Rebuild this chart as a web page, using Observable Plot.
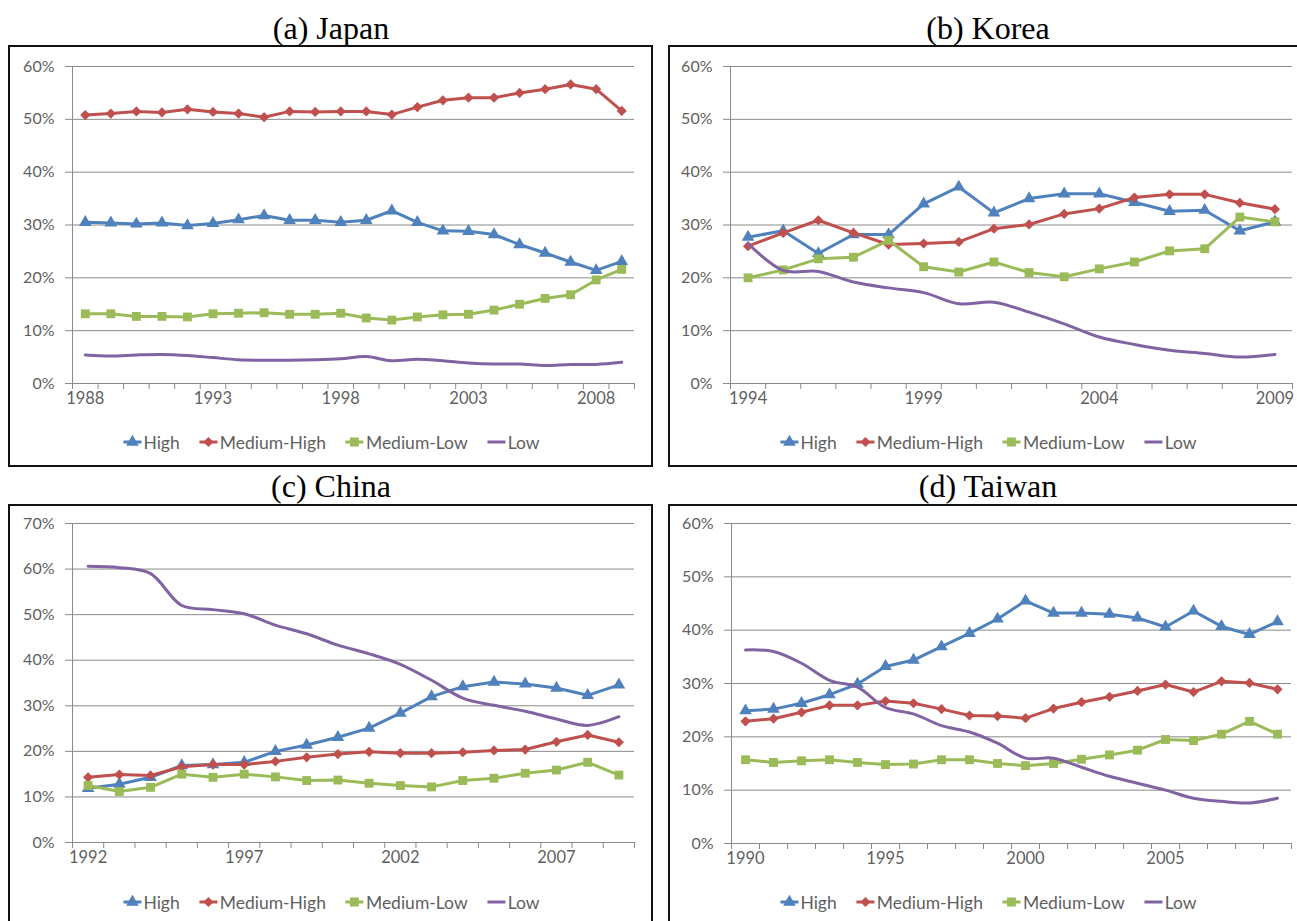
<!DOCTYPE html>
<html>
<head>
<meta charset="utf-8">
<script src="https://cdn.jsdelivr.net/npm/d3@7"></script>
<script src="https://cdn.jsdelivr.net/npm/@observablehq/plot@0.6"></script>
<style>
  body { margin: 0; background: #fff; }
  #page { position: relative; width: 1297px; height: 921px; overflow: hidden; background: #fff; }
  .title { position: absolute; font-family: "Liberation Serif", "Times New Roman", serif; font-size: 32px;
           color: #000; text-align: center; white-space: nowrap; line-height: 36px; }
  .frame { position: absolute; border: 2px solid #111; box-sizing: border-box; background: #fff; }
  .chart { position: absolute; }
  .legend { position: absolute; display: flex; justify-content: center; align-items: center; gap: 19px;
            font-family: Lato, "Open Sans", sans-serif; font-size: 17.5px; color: #5f5f5f; white-space: nowrap;
            transform: translateX(-50%); }
  .legend .item { display: inline-flex; align-items: center; }
  .legend svg { margin-right: 1px; }
</style>
</head>
<body>
<div id="page"></div>
<script>
// Share of manufacturing output by technology intensity (%), by year

// (a) Japan
const japanYears = [1988, 1989, 1990, 1991, 1992, 1993, 1994, 1995, 1996, 1997, 1998, 1999, 2000, 2001, 2002, 2003, 2004, 2005, 2006, 2007, 2008, 2009];
const japanHigh    = [30.5, 30.4, 30.2, 30.4, 29.9, 30.3, 31.0, 31.8, 30.9, 30.9, 30.5, 30.9, 32.7, 30.5, 28.9, 28.8, 28.2, 26.3, 24.7, 23.0, 21.4, 23.1];
const japanMedHigh = [50.8, 51.1, 51.5, 51.3, 51.9, 51.4, 51.1, 50.4, 51.5, 51.4, 51.5, 51.5, 50.9, 52.3, 53.6, 54.1, 54.1, 55.0, 55.7, 56.6, 55.7, 51.6];
const japanMedLow  = [13.2, 13.2, 12.7, 12.7, 12.6, 13.2, 13.3, 13.4, 13.1, 13.1, 13.3, 12.4, 12.0, 12.6, 13.0, 13.1, 13.9, 15.0, 16.1, 16.8, 19.6, 21.6];
const japanLow     = [5.4, 5.2, 5.4, 5.5, 5.3, 4.9, 4.5, 4.4, 4.4, 4.5, 4.7, 5.1, 4.3, 4.6, 4.3, 3.9, 3.7, 3.7, 3.4, 3.6, 3.6, 4.0];
const japanTickLabels = [1988, 1993, 1998, 2003, 2008];

// (b) Korea
const koreaYears = [1994, 1995, 1996, 1997, 1998, 1999, 2000, 2001, 2002, 2003, 2004, 2005, 2006, 2007, 2008, 2009];
const koreaHigh    = [27.7, 28.9, 24.6, 28.2, 28.2, 34.0, 37.2, 32.3, 35.0, 35.9, 35.9, 34.3, 32.6, 32.8, 28.9, 30.6];
const koreaMedHigh = [26.0, 28.5, 30.9, 28.5, 26.3, 26.5, 26.8, 29.3, 30.1, 32.1, 33.1, 35.2, 35.8, 35.8, 34.2, 33.0];
const koreaMedLow  = [20.0, 21.5, 23.6, 23.9, 27.1, 22.1, 21.1, 23.0, 21.0, 20.2, 21.7, 23.0, 25.1, 25.5, 31.5, 30.6];
const koreaLow     = [26.5, 21.4, 21.2, 19.2, 18.1, 17.2, 15.1, 15.4, 13.5, 11.3, 8.8, 7.4, 6.3, 5.7, 5.0, 5.5];
const koreaTickLabels = [1994, 1999, 2004, 2009];

// (c) China
const chinaYears = [1992, 1993, 1994, 1995, 1996, 1997, 1998, 1999, 2000, 2001, 2002, 2003, 2004, 2005, 2006, 2007, 2008, 2009];
const chinaHigh    = [11.9, 12.8, 14.3, 16.9, 17.1, 17.6, 20.0, 21.4, 23.1, 25.1, 28.4, 32.0, 34.2, 35.2, 34.8, 33.9, 32.3, 34.6];
const chinaMedHigh = [14.3, 14.9, 14.7, 16.6, 17.1, 17.1, 17.8, 18.7, 19.4, 19.9, 19.6, 19.6, 19.8, 20.2, 20.4, 22.1, 23.6, 22.0];
const chinaMedLow  = [12.5, 11.2, 12.1, 15.0, 14.3, 15.0, 14.4, 13.6, 13.7, 13.0, 12.5, 12.2, 13.6, 14.1, 15.2, 15.9, 17.6, 14.8];
const chinaLow     = [60.6, 60.3, 59.0, 52.0, 51.1, 50.2, 47.7, 45.8, 43.3, 41.4, 39.1, 35.6, 31.7, 30.1, 28.8, 27.1, 25.7, 27.6];
const chinaTickLabels = [1992, 1997, 2002, 2007];

// (d) Taiwan
const taiwanYears = [1990, 1991, 1992, 1993, 1994, 1995, 1996, 1997, 1998, 1999, 2000, 2001, 2002, 2003, 2004, 2005, 2006, 2007, 2008, 2009];
const taiwanHigh    = [24.9, 25.2, 26.3, 27.9, 29.9, 33.2, 34.4, 36.9, 39.4, 42.1, 45.5, 43.2, 43.2, 43.0, 42.3, 40.6, 43.6, 40.7, 39.2, 41.6];
const taiwanMedHigh = [22.9, 23.4, 24.6, 25.9, 25.9, 26.7, 26.3, 25.2, 24.0, 23.9, 23.5, 25.3, 26.5, 27.5, 28.6, 29.8, 28.4, 30.4, 30.1, 28.9];
const taiwanMedLow  = [15.7, 15.2, 15.5, 15.7, 15.2, 14.8, 14.9, 15.7, 15.7, 15.0, 14.6, 15.0, 15.8, 16.6, 17.5, 19.5, 19.3, 20.5, 22.9, 20.5];
const taiwanLow     = [36.3, 36.0, 33.8, 30.6, 29.3, 25.5, 24.3, 22.1, 20.9, 18.8, 16.0, 16.0, 14.3, 12.6, 11.3, 10.0, 8.5, 7.9, 7.6, 8.5];
const taiwanTickLabels = [1990, 1995, 2000, 2005];

const yTicks60 = [0, 10, 20, 30, 40, 50, 60];
const yTicks70 = [0, 10, 20, 30, 40, 50, 60, 70];

const seriesNames = ["High", "Medium-High", "Medium-Low", "Low"];
const seriesColors = ["#4F81BD", "#C0504D", "#9BBB59", "#8064A2"];
const seriesSymbols = ["triangle", "diamond2", "square", null];
const seriesRadius = [4.7, 4.6, 5.0, 0];

const GRID = "#8a8a8a";
const TEXT = "#5f5f5f";
const AXIS_FONT = "Lato, 'Open Sans', sans-serif";

const panels = [
  { title: "(a) Japan", years: japanYears, values: [japanHigh, japanMedHigh, japanMedLow, japanLow],
    tickLabels: japanTickLabels, yTicks: yTicks60,
    frame: { x: 8, y: 45, w: 645, h: 422 }, area: { x0: 72, x1: 634, y0: 66, y1: 383 },
    titleY: 10, legendY: 442, center: 331 },
  { title: "(b) Korea", years: koreaYears, values: [koreaHigh, koreaMedHigh, koreaMedLow, koreaLow],
    tickLabels: koreaTickLabels, yTicks: yTicks60,
    frame: { x: 668, y: 45, w: 700, h: 422 }, area: { x0: 730, x1: 1292, y0: 66, y1: 383 },
    titleY: 10, legendY: 442, center: 988 },
  { title: "(c) China", years: chinaYears, values: [chinaHigh, chinaMedHigh, chinaMedLow, chinaLow],
    tickLabels: chinaTickLabels, yTicks: yTicks70,
    frame: { x: 8, y: 504, w: 645, h: 440 }, area: { x0: 72, x1: 634, y0: 523, y1: 842 },
    titleY: 468, legendY: 902, center: 331 },
  { title: "(d) Taiwan", years: taiwanYears, values: [taiwanHigh, taiwanMedHigh, taiwanMedLow, taiwanLow],
    tickLabels: taiwanTickLabels, yTicks: yTicks60,
    frame: { x: 668, y: 504, w: 700, h: 440 }, area: { x0: 731, x1: 1291, y0: 523, y1: 843 },
    titleY: 468, legendY: 902, center: 988 }
];

const page = document.getElementById("page");

function legendSwatch(i) {
  const ns = "http://www.w3.org/2000/svg";
  const svg = document.createElementNS(ns, "svg");
  svg.setAttribute("width", 20);
  svg.setAttribute("height", 14);
  const line = document.createElementNS(ns, "line");
  line.setAttribute("x1", 1); line.setAttribute("x2", 19);
  line.setAttribute("y1", 7); line.setAttribute("y2", 7);
  line.setAttribute("stroke", seriesColors[i]);
  line.setAttribute("stroke-width", 3);
  svg.appendChild(line);
  if (seriesSymbols[i]) {
    const symbolType = { triangle: d3.symbolTriangle, diamond2: d3.symbolDiamond2, square: d3.symbolSquare }[seriesSymbols[i]];
    const r = seriesRadius[i];
    const path = document.createElementNS(ns, "path");
    path.setAttribute("d", d3.symbol(symbolType, Math.PI * r * r)());
    path.setAttribute("transform", "translate(10,7)");
    path.setAttribute("fill", seriesColors[i]);
    svg.appendChild(path);
  }
  return svg;
}

for (const p of panels) {
  // frame
  const frame = document.createElement("div");
  frame.className = "frame";
  Object.assign(frame.style, { left: p.frame.x + "px", top: p.frame.y + "px", width: p.frame.w + "px", height: p.frame.h + "px" });
  page.appendChild(frame);

  // title
  const title = document.createElement("div");
  title.className = "title";
  title.textContent = p.title;
  Object.assign(title.style, { left: (p.center - 150) + "px", width: "300px", top: p.titleY + "px" });
  page.appendChild(title);

  // data table
  const rows = [];
  p.values.forEach((vals, s) => vals.forEach((v, k) => rows.push({ series: seriesNames[s], year: p.years[k], value: v })));

  const first = p.years[0], last = p.years[p.years.length - 1];
  const boundaries = p.years.map(y => y - 0.5).concat([last + 0.5]);

  const svgLeft = p.frame.x + 2, svgTop = p.frame.y + 2;
  const marginRight = 16, marginBottom = 44;
  const width = p.area.x1 + marginRight - svgLeft;
  const height = p.area.y1 + marginBottom - svgTop;

  const marks = [
    Plot.gridY(p.yTicks, { stroke: GRID, strokeOpacity: 1, strokeWidth: 1 }),
    Plot.ruleX([first - 0.5], { stroke: GRID, strokeWidth: 1 }),
    Plot.ruleY([0], { stroke: GRID, strokeWidth: 1 }),
    Plot.axisY(p.yTicks, { tickSize: 7, tickPadding: 11, tickFormat: d => `${d}%`, stroke: GRID, fill: TEXT,
                           fontSize: 16, label: null }),
    Plot.axisX(boundaries, { tickSize: 6, tickFormat: () => "", stroke: GRID, label: null }),
    Plot.axisX(p.tickLabels, { tickSize: 0, tickPadding: 9, tickFormat: d => String(d), fill: TEXT,
                               fontSize: 16.5, label: null })
  ];

  seriesNames.forEach((name, s) => {
    const data = rows.filter(d => d.series === name);
    marks.push(Plot.line(data, { x: "year", y: "value", stroke: seriesColors[s], strokeWidth: 3,
                                 curve: seriesSymbols[s] ? "linear" : "catmull-rom" }));
    if (seriesSymbols[s]) {
      marks.push(Plot.dot(data, { x: "year", y: "value", symbol: () => seriesSymbols[s], r: seriesRadius[s],
                                  fill: seriesColors[s], stroke: "none" }));
    }
  });

  const chart = Plot.plot({
    width, height,
    marginLeft: p.area.x0 - svgLeft,
    marginRight,
    marginTop: p.area.y0 - svgTop,
    marginBottom,
    x: { type: "linear", domain: [first - 0.5, last + 0.5], label: null },
    y: { type: "linear", domain: [0, p.yTicks[p.yTicks.length - 1]], label: null },
    symbol: { type: "identity" },
    style: { fontFamily: AXIS_FONT, background: "transparent", overflow: "visible" },
    marks
  });
  chart.classList.add("chart");
  Object.assign(chart.style, { left: svgLeft + "px", top: svgTop + "px" });
  page.appendChild(chart);

  // legend below the plot
  const legend = document.createElement("div");
  legend.className = "legend";
  Object.assign(legend.style, { left: p.center + "px", top: (p.legendY - 11) + "px", height: "22px" });
  seriesNames.forEach((name, s) => {
    const item = document.createElement("span");
    item.className = "item";
    item.appendChild(legendSwatch(s));
    const label = document.createElement("span");
    label.textContent = name;
    item.appendChild(label);
    legend.appendChild(item);
  });
  page.appendChild(legend);
}
</script>
</body>
</html>
